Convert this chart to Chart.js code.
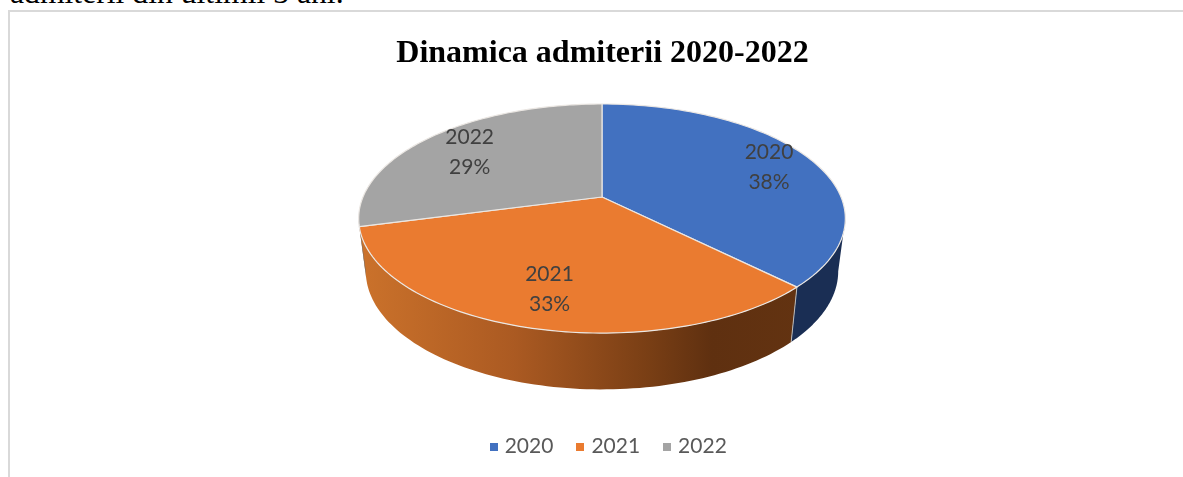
<!DOCTYPE html>
<html lang="ro">
<head>
<meta charset="utf-8">
<title>Dinamica admiterii 2020-2022</title>
<script src="https://cdn.jsdelivr.net/npm/chart.js@4/dist/chart.umd.min.js"></script>
<style>
  html, body { margin: 0; padding: 0; background: #fff; width: 1183px; height: 477px; overflow: hidden; }
  #intro { position: absolute; left: 10px; top: -25px; font: 31.7px "Liberation Serif", serif; color: #000; white-space: nowrap; }
  #frame { position: absolute; left: 8px; top: 10px; width: 1190px; height: 470px; border-left: 2px solid #d9d9d9; border-top: 2px solid #d9d9d9; }
  #chart { display: block; }
</style>
</head>
<body>
<div id="intro">admiterii din ultimii 3 ani.</div>
<div id="frame"><canvas id="chart" width="1190" height="470"></canvas></div>
<script>
const categories = ['2020', '2021', '2022'];
const values = [37.5, 33.4, 29.1];
const colors = ['#4271c0', '#ea7b30', '#a4a4a4'];

// geometry of the tilted pie, in canvas pixels (canvas starts at 10,12)
const top3d = { cx: 592, cy: 185, a: 239, b: 110.5 };
const low3d = { cx: 592, cy: 237, a: 232, b: 114 };
const PERSP = -0.188;
const LABEL_R = [0.8, 0.73, 0.76];

function project(face, angle, r){
  // chart.js angle -> point on the tilted disc
  const u = Math.cos(angle) * r;
  const v = Math.sin(angle) * r;
  const d = 1 + PERSP * v;
  return [face.cx + face.a * u / d, face.cy + face.b * v / d];
}

function rim(ctx, face, from, to){
  const steps = 90;
  for(let i = 0; i <= steps; i++){
    const p = project(face, from + (to - from) * i / steps, 1);
    ctx.lineTo(p[0], p[1]);
  }
}

function sideFill(ctx, i){
  if(i === 0) return '#1a2e54';
  if(i === 2) return '#6b6b6b';
  const g = ctx.createLinearGradient(350, 0, 790, 0);
  g.addColorStop(0, '#cb722b');
  g.addColorStop(0.35, '#ab5a22');
  g.addColorStop(0.65, '#7a3f15');
  g.addColorStop(0.8, '#5f3010');
  g.addColorStop(1, '#633311');
  return g;
}

function square(color){
  const c = document.createElement('canvas');
  c.width = 8;
  c.height = 8;
  const x = c.getContext('2d');
  x.fillStyle = color;
  x.fillRect(0, 0, 8, 8);
  return c;
}

const pie3d = {
  id: 'pie3d',
  afterLayout(chart){
    // the reference's title and legend are not quite on the same centre
    chart.titleBlock.left -= 2.5;
    chart.titleBlock.right -= 2.5;
    chart.legend.left += 5;
    chart.legend.right += 5;
  },
  beforeDatasetDraw(chart, args){
    const ctx = chart.ctx;
    const arcs = chart.getDatasetMeta(args.index).data;
    const frontA = Math.asin(-PERSP);
    const frontB = Math.PI - frontA;

    ctx.save();
    // side walls, only the part turned to the viewer
    arcs.forEach((arc, i) => {
      const from = Math.max(arc.startAngle, frontA);
      const to = Math.min(arc.endAngle, frontB);
      if(to <= from) return;
      ctx.beginPath();
      rim(ctx, top3d, from, to);
      rim(ctx, low3d, to, from);
      ctx.closePath();
      ctx.fillStyle = sideFill(ctx, i);
      ctx.fill();
    });
    // seam between the walls
    const seam = arcs[0].endAngle;
    const s1 = project(top3d, seam, 1);
    const s2 = project(low3d, seam, 1);
    ctx.strokeStyle = '#b9b9b9';
    ctx.lineWidth = 1;
    ctx.beginPath();
    ctx.moveTo(s1[0], s1[1]);
    ctx.lineTo(s2[0], s2[1]);
    ctx.stroke();
    // top faces
    arcs.forEach((arc, i) => {
      const c = project(top3d, 0, 0);
      ctx.beginPath();
      ctx.moveTo(c[0], c[1]);
      rim(ctx, top3d, arc.startAngle, arc.endAngle);
      ctx.closePath();
      ctx.fillStyle = colors[i];
      ctx.fill();
      ctx.strokeStyle = '#ebe7e3';
      ctx.lineWidth = 1.2;
      ctx.lineJoin = 'round';
      ctx.stroke();
    });
    // labels
    const total = values.reduce((a, b) => a + b, 0);
    ctx.fillStyle = '#404040';
    ctx.font = '21px Lato, sans-serif';
    ctx.textAlign = 'center';
    ctx.textBaseline = 'middle';
    arcs.forEach((arc, i) => {
      const p = project(top3d, (arc.startAngle + arc.endAngle) / 2, LABEL_R[i]);
      ctx.fillText(categories[i], p[0], p[1] - 12.5);
      ctx.fillText(Math.round(values[i] / total * 100) + '%', p[0], p[1] + 17.5);
    });
    ctx.restore();
    return false;
  }
};

new Chart(document.getElementById('chart'), {
  type: 'pie',
  data: {
    labels: categories,
    datasets: [{ data: values, backgroundColor: colors, borderWidth: 0 }]
  },
  plugins: [pie3d],
  options: {
    responsive: false,
    animation: false,
    layout: { padding: { top: 23, bottom: 15 } },
    plugins: {
      title: {
        display: true,
        text: 'Dinamica admiterii 2020-2022',
        color: '#000',
        font: { family: '"Liberation Serif", serif', size: 32, weight: 'bold' },
        padding: { top: 0, bottom: 10 }
      },
      legend: {
        position: 'bottom',
        labels: {
          usePointStyle: true,
          pointStyleWidth: 1,
          boxHeight: 8,
          color: '#595959',
          padding: 26.5,
          font: { family: 'Lato, sans-serif', size: 21 },
          generateLabels(chart){
            const items = Chart.overrides.pie.plugins.legend.labels.generateLabels(chart);
            items.forEach((item, i) => { item.pointStyle = square(colors[i]); });
            return items;
          }
        }
      },
      tooltip: { enabled: false }
    }
  }
});
</script>
</body>
</html>
